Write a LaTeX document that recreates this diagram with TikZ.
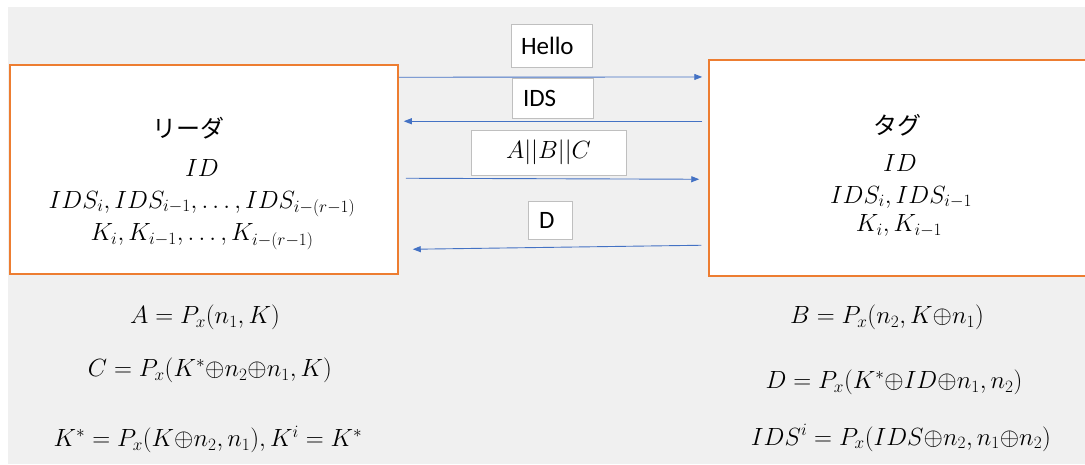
\documentclass[tikz,border=0pt]{standalone}
\usepackage{fontspec}
\setsansfont{Carlito}
\newfontfamily\jpfont{Noto Sans CJK JP}
\usetikzlibrary{arrows.meta}
\definecolor{bgray}{HTML}{F0F0F0}
\definecolor{orng}{HTML}{ED7D31}
\definecolor{msgblue}{HTML}{4472C4}
\definecolor{lblgray}{HTML}{BFBFBF}

\begin{document}
\begin{tikzpicture}[x=1pt,y=-1pt,
  party/.style={draw=orng, line width=1.5pt, fill=white, inner sep=0pt},
  msglabel/.style={draw=lblgray, line width=0.8pt, fill=white, inner ysep=0pt,
    font=\fontsize{25}{30}\sffamily},
  msg/.style={draw=msgblue, line width=0.9pt, -{Triangle[length=8pt,width=6pt]}},
  mathtxt/.style={font=\fontsize{24}{28}\selectfont, anchor=base, inner sep=0pt},
  jptxt/.style={font=\fontsize{24}{28}\jpfont, inner sep=0pt}]
\useasboundingbox (0,0) rectangle (1085,464);
\clip (0,0) rectangle (1085,464);
\fill[bgray] (8,7) rectangle (1085,464);

% the two parties
\node[party, minimum width=388pt, minimum height=209pt] (reader) at (204,169.5) {};
\node[party, minimum width=386pt, minimum height=216pt] (tag) at (902,168) {};

% messages exchanged
\draw[msg] ([yshift=-13pt]reader.north east) -- ([xshift=-6pt,yshift=-17.7pt]tag.north west);
\draw[msg] ([xshift=-6pt,yshift=-62pt]tag.north west) -- ([xshift=5pt,yshift=-57pt]reader.north east);
\draw[msg] ([xshift=7pt,yshift=-114pt]reader.north east) -- ([xshift=-9pt,yshift=-120pt]tag.north west);
\draw[msg] ([xshift=-7pt,yshift=-186pt]tag.north west) -- ([xshift=14pt,yshift=-185pt]reader.north east);

% message labels
\node[msglabel, text width=61pt, inner xsep=10pt, minimum height=43pt, align=left] (hello) at (551.5,45.5) {Hello};
\node[msglabel, text width=59pt, inner xsep=11pt, minimum height=40pt, align=left] (ids) at (552.5,98) {IDS};
\node[msglabel, minimum width=155pt, minimum height=45pt] (abc) at (548.5,152.5) {$A||B||C$};
\node[msglabel, text width=22pt, inner xsep=11pt, minimum height=38pt, align=left] (dmsg) at (550,220) {D};

% reader contents
\node[jptxt] (rname) at (188,128) {リーダ};
\node[mathtxt] (rid) at (202,176.7) {$ID$};
\node[mathtxt] (rids) at (202,208) {$IDS_i,IDS_{i-1},\ldots,IDS_{i-(r-1)}$};
\node[mathtxt] (rk) at (202,240.7) {$K_i,K_{i-1},\ldots,K_{i-(r-1)}$};

% tag contents
\node[jptxt] (tname) at (897,125) {タグ};
\node[mathtxt] (tid) at (900,171.7) {$ID$};
\node[mathtxt] (tids) at (901,203) {$IDS_i,IDS_{i-1}$};
\node[mathtxt] (tk) at (899,231.7) {$K_i,K_{i-1}$};

% computations on each side
\node[mathtxt] (eqa) at (205,323.3) {$A=P_x(n_1,K)$};
\node[mathtxt] (eqc) at (210,376.7) {$C=P_x(K^*{\oplus}n_2{\oplus}n_1,K)$};
\node[mathtxt] (eqk) at (208,446.7) {$K^*=P_x(K{\oplus}n_2,n_1),K^i=K^*$};
\node[mathtxt] (eqb) at (887,323.3) {$B=P_x(n_2,K{\oplus}n_1)$};
\node[mathtxt] (eqd) at (894,388.3) {$D=P_x(K^*{\oplus}ID{\oplus}n_1,n_2)$};
\node[mathtxt] (eqi) at (901,445) {$IDS^i=P_x(IDS{\oplus}n_2,n_1{\oplus}n_2)$};
\end{tikzpicture}
\end{document}
